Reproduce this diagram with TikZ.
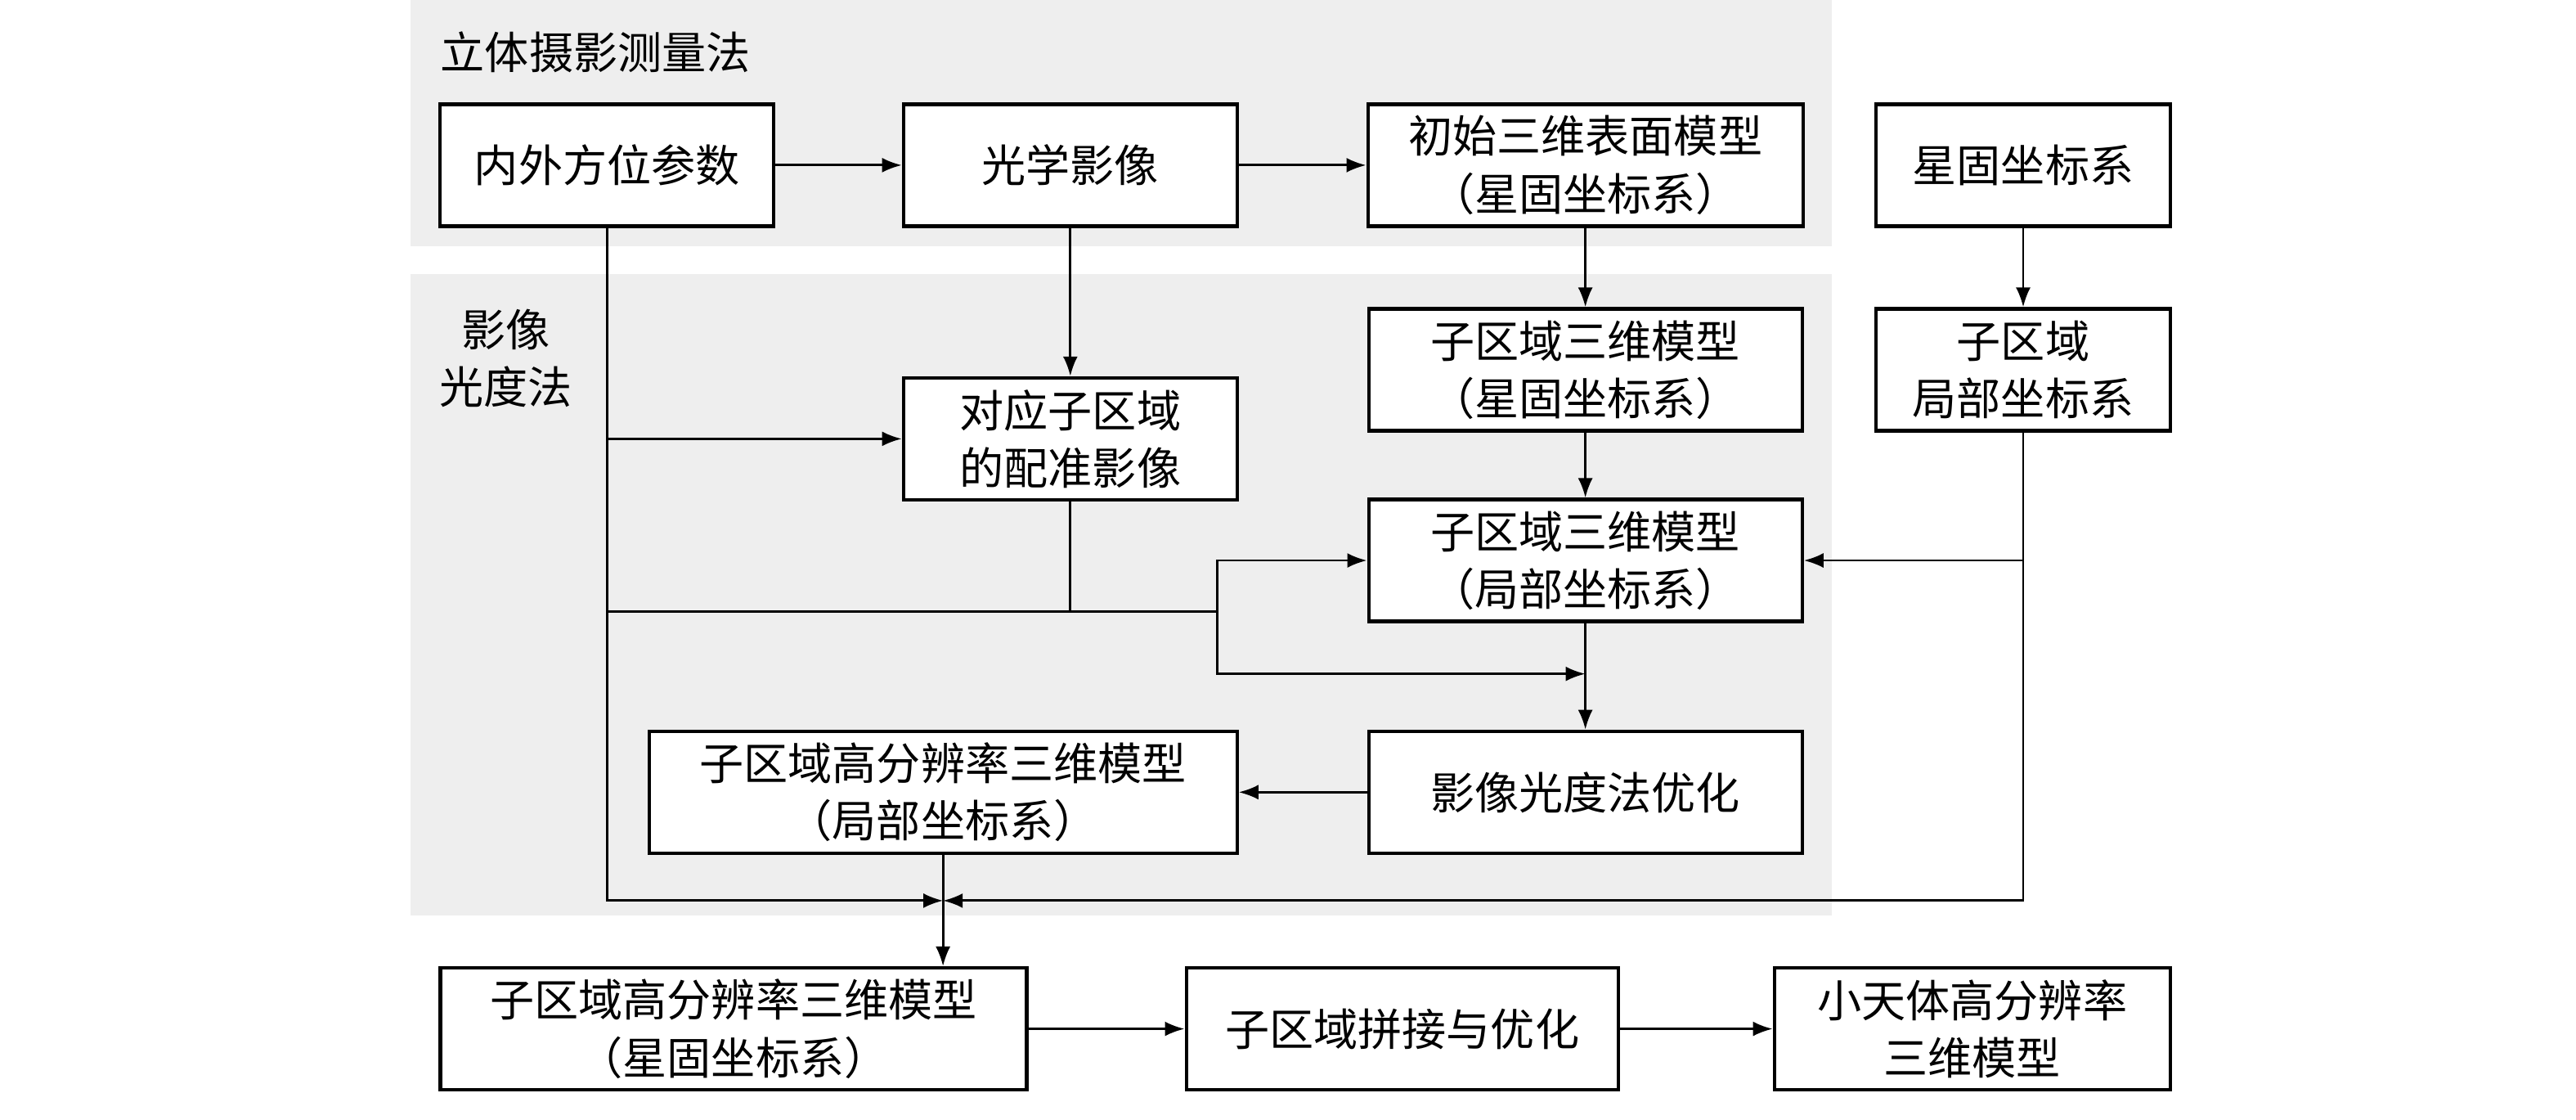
\documentclass[tikz,border=0pt]{standalone}
\usepackage{fontspec}
\newfontfamily\cjk{Noto Sans CJK SC}
\usepackage{tikz}
\usetikzlibrary{arrows.meta}
\definecolor{panelgray}{RGB}{238,238,238}

\begin{document}
\begin{tikzpicture}[
  x=0.2009mm, y=-0.2009mm,
  font=\cjk\fontsize{15.4}{20}\selectfont,
  panel/.style={fill=panelgray},
  block/.style={draw,line width=1.2pt,fill=white,inner sep=0pt,minimum height=1.49cm},
  to/.style={->,>={Latex[length=2.4mm,width=1.8mm]},line width=0.8pt},
  line/.style={line width=0.8pt},
  every node/.style={align=center}]

  \useasboundingbox (0,0) rectangle (1568,681);

  % Gray background panels
  \fill[panel] (250,0) rectangle (1115,150);
  \fill[panel] (250,167) rectangle (1115,557);
  \node[anchor=west] (stereo) at (262,32) {立体摄影测量法};
  \node (photometry) at (308,218) {影像\\光度法};

  % Position the nodes
  \node[block,minimum width=4.08cm] (params) at (369.5,100.5) {内外方位参数};
  \node[block,minimum width=4.08cm] (image) at (651.5,100.5) {光学影像};
  \node[block,minimum width=5.32cm] (init) at (965,100.5) {初始三维表面模型\\（星固坐标系）};
  \node[block,minimum width=3.60cm] (fixed) at (1231.5,100.5) {星固坐标系};
  \node[block,minimum width=5.30cm] (subfix) at (965,225) {子区域三维模型\\（星固坐标系）};
  \node[block,minimum width=3.60cm] (localsys) at (1231.5,225) {子区域\\局部坐标系};
  \node[block,minimum width=4.08cm] (regimg) at (651.5,267) {对应子区域\\的配准影像};
  \node[block,minimum width=5.30cm] (sublocal) at (965,341) {子区域三维模型\\（局部坐标系）};
  \node[block,minimum width=7.19cm] (hireslocal) at (574,482) {子区域高分辨率三维模型\\（局部坐标系）};
  \node[block,minimum width=5.30cm] (optim) at (965,482) {影像光度法优化};
  \node[block,minimum width=7.17cm] (hiresfix) at (446.5,626) {子区域高分辨率三维模型\\（星固坐标系）};
  \node[block,minimum width=5.28cm] (mosaic) at (853.5,626) {子区域拼接与优化};
  \node[block,minimum width=4.84cm] (asteroid) at (1200.5,626) {小天体高分辨率\\三维模型};

  % Junction points
  \coordinate (split) at (741,372);
  \coordinate (tap) at (965,410);
  \coordinate (merge) at (574,548);

  % Draw the arrows between the nodes
  \draw[to] (params) -- (image);
  \draw[to] (image) -- (init);
  \draw[to] (init) -- (subfix);
  \draw[to] (subfix) -- (sublocal);
  \draw[to] (fixed) -- (localsys);
  \draw[to] (image) -- (regimg);
  \draw[to] (sublocal) -- (optim);
  \draw[to] (optim) -- (hireslocal);
  \draw[to] (hireslocal.south) -- (hireslocal.south |- hiresfix.north);
  \draw[to] (hiresfix) -- (mosaic);
  \draw[to] (mosaic) -- (asteroid);

  \draw[to] (params.south) |- (merge);
  \draw[to] (params.south |- regimg) -- (regimg);
  \draw[line] (params.south |- split) -- (split);
  \draw[line] (regimg) -- (regimg |- split);
  \draw[to] (split) |- (sublocal);
  \draw[to] (split) |- (tap);
  \draw[to] (localsys.south) |- (sublocal.east);
  \draw[to] (localsys.south) |- (merge);
\end{tikzpicture}
\end{document}
